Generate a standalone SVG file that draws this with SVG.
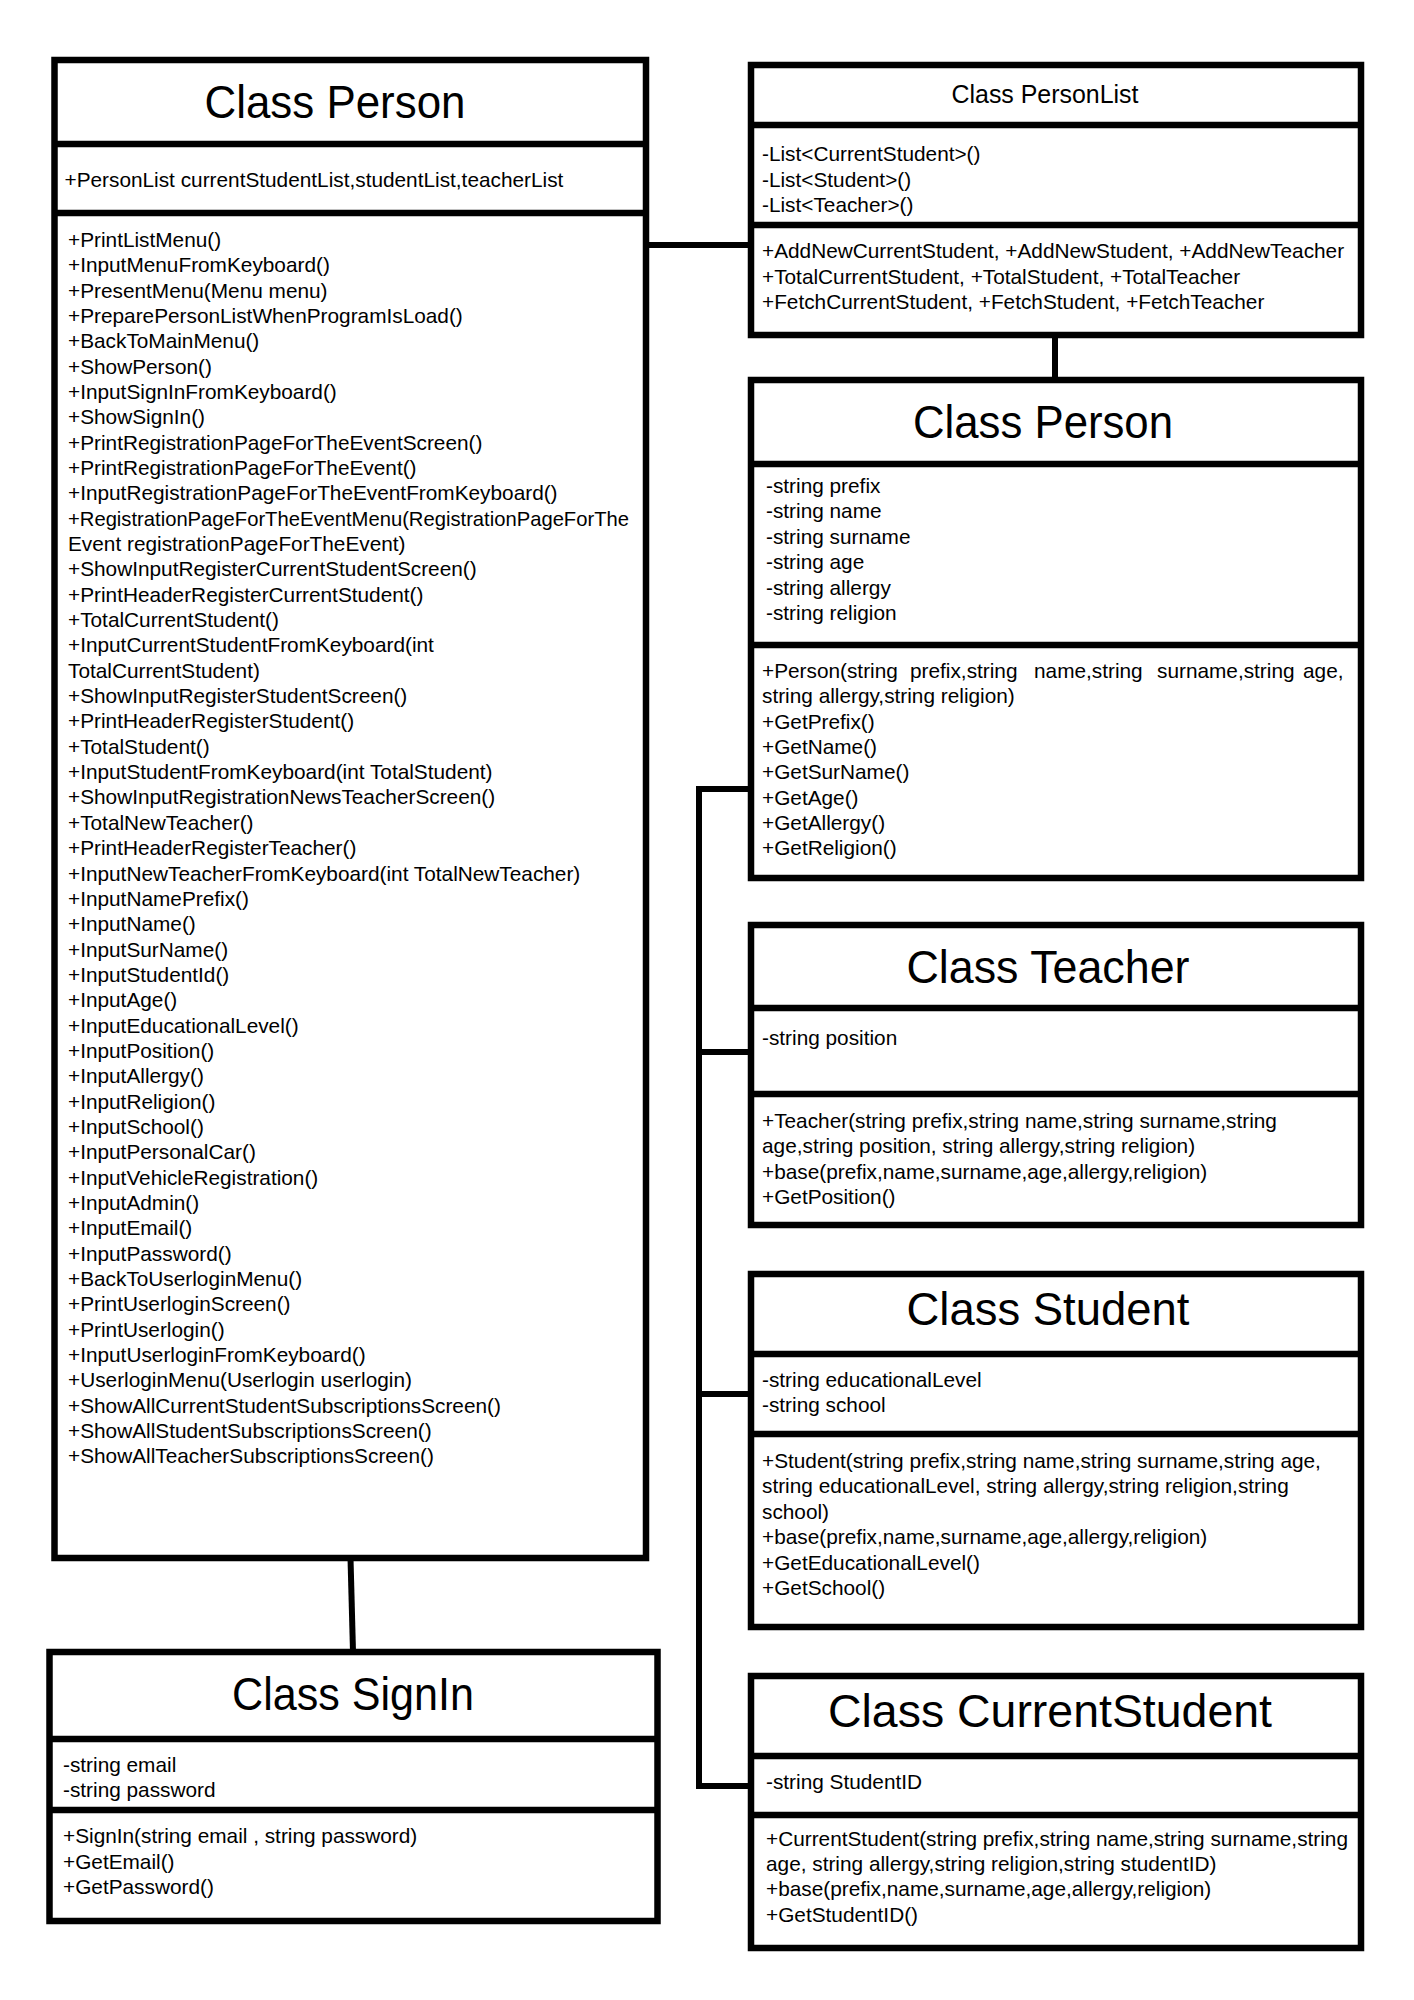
<svg xmlns="http://www.w3.org/2000/svg" width="1414" height="2000" viewBox="0 0 1414 2000">
<style>
.box{fill:#fff;stroke:#000;stroke-width:6.5}
.dv{stroke:#000;stroke-width:6.5}
.t{font-family:"Liberation Sans",Arial,sans-serif;font-size:20.8px;fill:#000}
.ti{font-family:"Liberation Sans",Arial,sans-serif;font-size:47px;fill:#000;text-anchor:middle}
.conn{stroke:#000;stroke-width:6;fill:none}
</style>
<rect width="1414" height="2000" fill="#fff"/>
<g id="connectors">
<line class="conn" x1="646" y1="245" x2="751" y2="245"/>
<line class="conn" x1="1055" y1="335" x2="1055" y2="380"/>
<path class="conn" d="M751 789 H699 V1786 H751"/>
<line class="conn" x1="699" y1="1052" x2="751" y2="1052"/>
<line class="conn" x1="699" y1="1394" x2="751" y2="1394"/>
<line class="conn" x1="350.5" y1="1558" x2="353" y2="1652"/>
</g>
<g id="person-main">
<rect class="box" x="54.5" y="60" width="591.5" height="1498"/>
<line class="dv" x1="54.5" y1="144" x2="646" y2="144"/>
<line class="dv" x1="54.5" y1="213" x2="646" y2="213"/>
<text class="ti" x="335" y="118" textLength="261" lengthAdjust="spacingAndGlyphs">Class Person</text>
<text class="t" x="64.5" y="187">+PersonList currentStudentList,studentList,teacherList</text>
<text class="t" y="247">
<tspan x="68">+PrintListMenu()</tspan>
<tspan x="68" dy="25.34">+InputMenuFromKeyboard()</tspan>
<tspan x="68" dy="25.34">+PresentMenu(Menu menu)</tspan>
<tspan x="68" dy="25.34">+PreparePersonListWhenProgramIsLoad()</tspan>
<tspan x="68" dy="25.34">+BackToMainMenu()</tspan>
<tspan x="68" dy="25.34">+ShowPerson()</tspan>
<tspan x="68" dy="25.34">+InputSignInFromKeyboard()</tspan>
<tspan x="68" dy="25.34">+ShowSignIn()</tspan>
<tspan x="68" dy="25.34">+PrintRegistrationPageForTheEventScreen()</tspan>
<tspan x="68" dy="25.34">+PrintRegistrationPageForTheEvent()</tspan>
<tspan x="68" dy="25.34">+InputRegistrationPageForTheEventFromKeyboard()</tspan>
<tspan x="68" dy="25.34" textLength="561" lengthAdjust="spacingAndGlyphs">+RegistrationPageForTheEventMenu(RegistrationPageForThe</tspan>
<tspan x="68" dy="25.34">Event registrationPageForTheEvent)</tspan>
<tspan x="68" dy="25.34">+ShowInputRegisterCurrentStudentScreen()</tspan>
<tspan x="68" dy="25.34">+PrintHeaderRegisterCurrentStudent()</tspan>
<tspan x="68" dy="25.34">+TotalCurrentStudent()</tspan>
<tspan x="68" dy="25.34">+InputCurrentStudentFromKeyboard(int</tspan>
<tspan x="68" dy="25.34">TotalCurrentStudent)</tspan>
<tspan x="68" dy="25.34">+ShowInputRegisterStudentScreen()</tspan>
<tspan x="68" dy="25.34">+PrintHeaderRegisterStudent()</tspan>
<tspan x="68" dy="25.34">+TotalStudent()</tspan>
<tspan x="68" dy="25.34">+InputStudentFromKeyboard(int TotalStudent)</tspan>
<tspan x="68" dy="25.34">+ShowInputRegistrationNewsTeacherScreen()</tspan>
<tspan x="68" dy="25.34">+TotalNewTeacher()</tspan>
<tspan x="68" dy="25.34">+PrintHeaderRegisterTeacher()</tspan>
<tspan x="68" dy="25.34">+InputNewTeacherFromKeyboard(int TotalNewTeacher)</tspan>
<tspan x="68" dy="25.34">+InputNamePrefix()</tspan>
<tspan x="68" dy="25.34">+InputName()</tspan>
<tspan x="68" dy="25.34">+InputSurName()</tspan>
<tspan x="68" dy="25.34">+InputStudentId()</tspan>
<tspan x="68" dy="25.34">+InputAge()</tspan>
<tspan x="68" dy="25.34">+InputEducationalLevel()</tspan>
<tspan x="68" dy="25.34">+InputPosition()</tspan>
<tspan x="68" dy="25.34">+InputAllergy()</tspan>
<tspan x="68" dy="25.34">+InputReligion()</tspan>
<tspan x="68" dy="25.34">+InputSchool()</tspan>
<tspan x="68" dy="25.34">+InputPersonalCar()</tspan>
<tspan x="68" dy="25.34">+InputVehicleRegistration()</tspan>
<tspan x="68" dy="25.34">+InputAdmin()</tspan>
<tspan x="68" dy="25.34">+InputEmail()</tspan>
<tspan x="68" dy="25.34">+InputPassword()</tspan>
<tspan x="68" dy="25.34">+BackToUserloginMenu()</tspan>
<tspan x="68" dy="25.34">+PrintUserloginScreen()</tspan>
<tspan x="68" dy="25.34">+PrintUserlogin()</tspan>
<tspan x="68" dy="25.34">+InputUserloginFromKeyboard()</tspan>
<tspan x="68" dy="25.34">+UserloginMenu(Userlogin userlogin)</tspan>
<tspan x="68" dy="25.34">+ShowAllCurrentStudentSubscriptionsScreen()</tspan>
<tspan x="68" dy="25.34">+ShowAllStudentSubscriptionsScreen()</tspan>
<tspan x="68" dy="25.34">+ShowAllTeacherSubscriptionsScreen()</tspan>
</text>
</g>
<g id="personlist">
<rect class="box" x="751" y="65" width="610" height="270"/>
<line class="dv" x1="751" y1="125" x2="1361" y2="125"/>
<line class="dv" x1="751" y1="225" x2="1361" y2="225"/>
<text class="ti" x="1045" y="103" style="font-size:25px" textLength="187" lengthAdjust="spacingAndGlyphs">Class PersonList</text>
<text class="t" y="161">
<tspan x="762">-List&lt;CurrentStudent&gt;()</tspan>
<tspan x="762" dy="25.5">-List&lt;Student&gt;()</tspan>
<tspan x="762" dy="25.5">-List&lt;Teacher&gt;()</tspan>
</text>
<text class="t" y="258">
<tspan x="762">+AddNewCurrentStudent, +AddNewStudent, +AddNewTeacher</tspan>
<tspan x="762" dy="25.5">+TotalCurrentStudent, +TotalStudent, +TotalTeacher</tspan>
<tspan x="762" dy="25.5">+FetchCurrentStudent, +FetchStudent, +FetchTeacher</tspan>
</text>
</g>
<g id="person">
<rect class="box" x="751" y="380" width="610" height="498"/>
<line class="dv" x1="751" y1="464" x2="1361" y2="464"/>
<line class="dv" x1="751" y1="645" x2="1361" y2="645"/>
<text class="ti" x="1043" y="438" textLength="260" lengthAdjust="spacingAndGlyphs">Class Person</text>
<text class="t" y="493">
<tspan x="766">-string prefix</tspan>
<tspan x="766" dy="25.4">-string name</tspan>
<tspan x="766" dy="25.4">-string surname</tspan>
<tspan x="766" dy="25.4">-string age</tspan>
<tspan x="766" dy="25.4">-string allergy</tspan>
<tspan x="766" dy="25.4">-string religion</tspan>
</text>
<text class="t" y="678">
<tspan x="762">+Person(string</tspan><tspan x="910">prefix,string</tspan><tspan x="1034">name,string</tspan><tspan x="1157">surname,string</tspan><tspan x="1303">age,</tspan>
<tspan x="762" dy="25.3">string allergy,string religion)</tspan>
<tspan x="762" dy="25.3">+GetPrefix()</tspan>
<tspan x="762" dy="25.3">+GetName()</tspan>
<tspan x="762" dy="25.3">+GetSurName()</tspan>
<tspan x="762" dy="25.3">+GetAge()</tspan>
<tspan x="762" dy="25.3">+GetAllergy()</tspan>
<tspan x="762" dy="25.3">+GetReligion()</tspan>
</text>
</g>
<g id="teacher">
<rect class="box" x="751" y="925" width="610" height="300"/>
<line class="dv" x1="751" y1="1008" x2="1361" y2="1008"/>
<line class="dv" x1="751" y1="1094" x2="1361" y2="1094"/>
<text class="ti" x="1048" y="983" textLength="283" lengthAdjust="spacingAndGlyphs">Class Teacher</text>
<text class="t" x="762" y="1045">-string position</text>
<text class="t" y="1128">
<tspan x="762">+Teacher(string prefix,string name,string surname,string</tspan>
<tspan x="762" dy="25.3">age,string position, string allergy,string religion)</tspan>
<tspan x="762" dy="25.3">+base(prefix,name,surname,age,allergy,religion)</tspan>
<tspan x="762" dy="25.3">+GetPosition()</tspan>
</text>
</g>
<g id="student">
<rect class="box" x="751" y="1274" width="610" height="353"/>
<line class="dv" x1="751" y1="1354" x2="1361" y2="1354"/>
<line class="dv" x1="751" y1="1434" x2="1361" y2="1434"/>
<text class="ti" x="1048" y="1325" textLength="283" lengthAdjust="spacingAndGlyphs">Class Student</text>
<text class="t" y="1387">
<tspan x="762">-string educationalLevel</tspan>
<tspan x="762" dy="25.3">-string school</tspan>
</text>
<text class="t" y="1468">
<tspan x="762">+Student(string prefix,string name,string surname,string age,</tspan>
<tspan x="762" dy="25.4">string educationalLevel, string allergy,string religion,string</tspan>
<tspan x="762" dy="25.4">school)</tspan>
<tspan x="762" dy="25.4">+base(prefix,name,surname,age,allergy,religion)</tspan>
<tspan x="762" dy="25.4">+GetEducationalLevel()</tspan>
<tspan x="762" dy="25.4">+GetSchool()</tspan>
</text>
</g>
<g id="currentstudent">
<rect class="box" x="751" y="1676" width="610" height="272"/>
<line class="dv" x1="751" y1="1756" x2="1361" y2="1756"/>
<line class="dv" x1="751" y1="1815" x2="1361" y2="1815"/>
<text class="ti" x="1050" y="1727" textLength="444" lengthAdjust="spacingAndGlyphs">Class CurrentStudent</text>
<text class="t" x="766" y="1789">-string StudentID</text>
<text class="t" y="1846">
<tspan x="766">+CurrentStudent(string prefix,string name,string surname,string</tspan>
<tspan x="766" dy="25.2">age, string allergy,string religion,string studentID)</tspan>
<tspan x="766" dy="25.2">+base(prefix,name,surname,age,allergy,religion)</tspan>
<tspan x="766" dy="25.2">+GetStudentID()</tspan>
</text>
</g>
<g id="signin">
<rect class="box" x="49.5" y="1652" width="608" height="269"/>
<line class="dv" x1="49.5" y1="1739" x2="657.5" y2="1739"/>
<line class="dv" x1="49.5" y1="1810" x2="657.5" y2="1810"/>
<text class="ti" x="353" y="1710" textLength="242" lengthAdjust="spacingAndGlyphs">Class SignIn</text>
<text class="t" y="1772">
<tspan x="63">-string email</tspan>
<tspan x="63" dy="25.3">-string password</tspan>
</text>
<text class="t" y="1843">
<tspan x="63">+SignIn(string email , string password)</tspan>
<tspan x="63" dy="25.5">+GetEmail()</tspan>
<tspan x="63" dy="25.5">+GetPassword()</tspan>
</text>
</g>
</svg>
